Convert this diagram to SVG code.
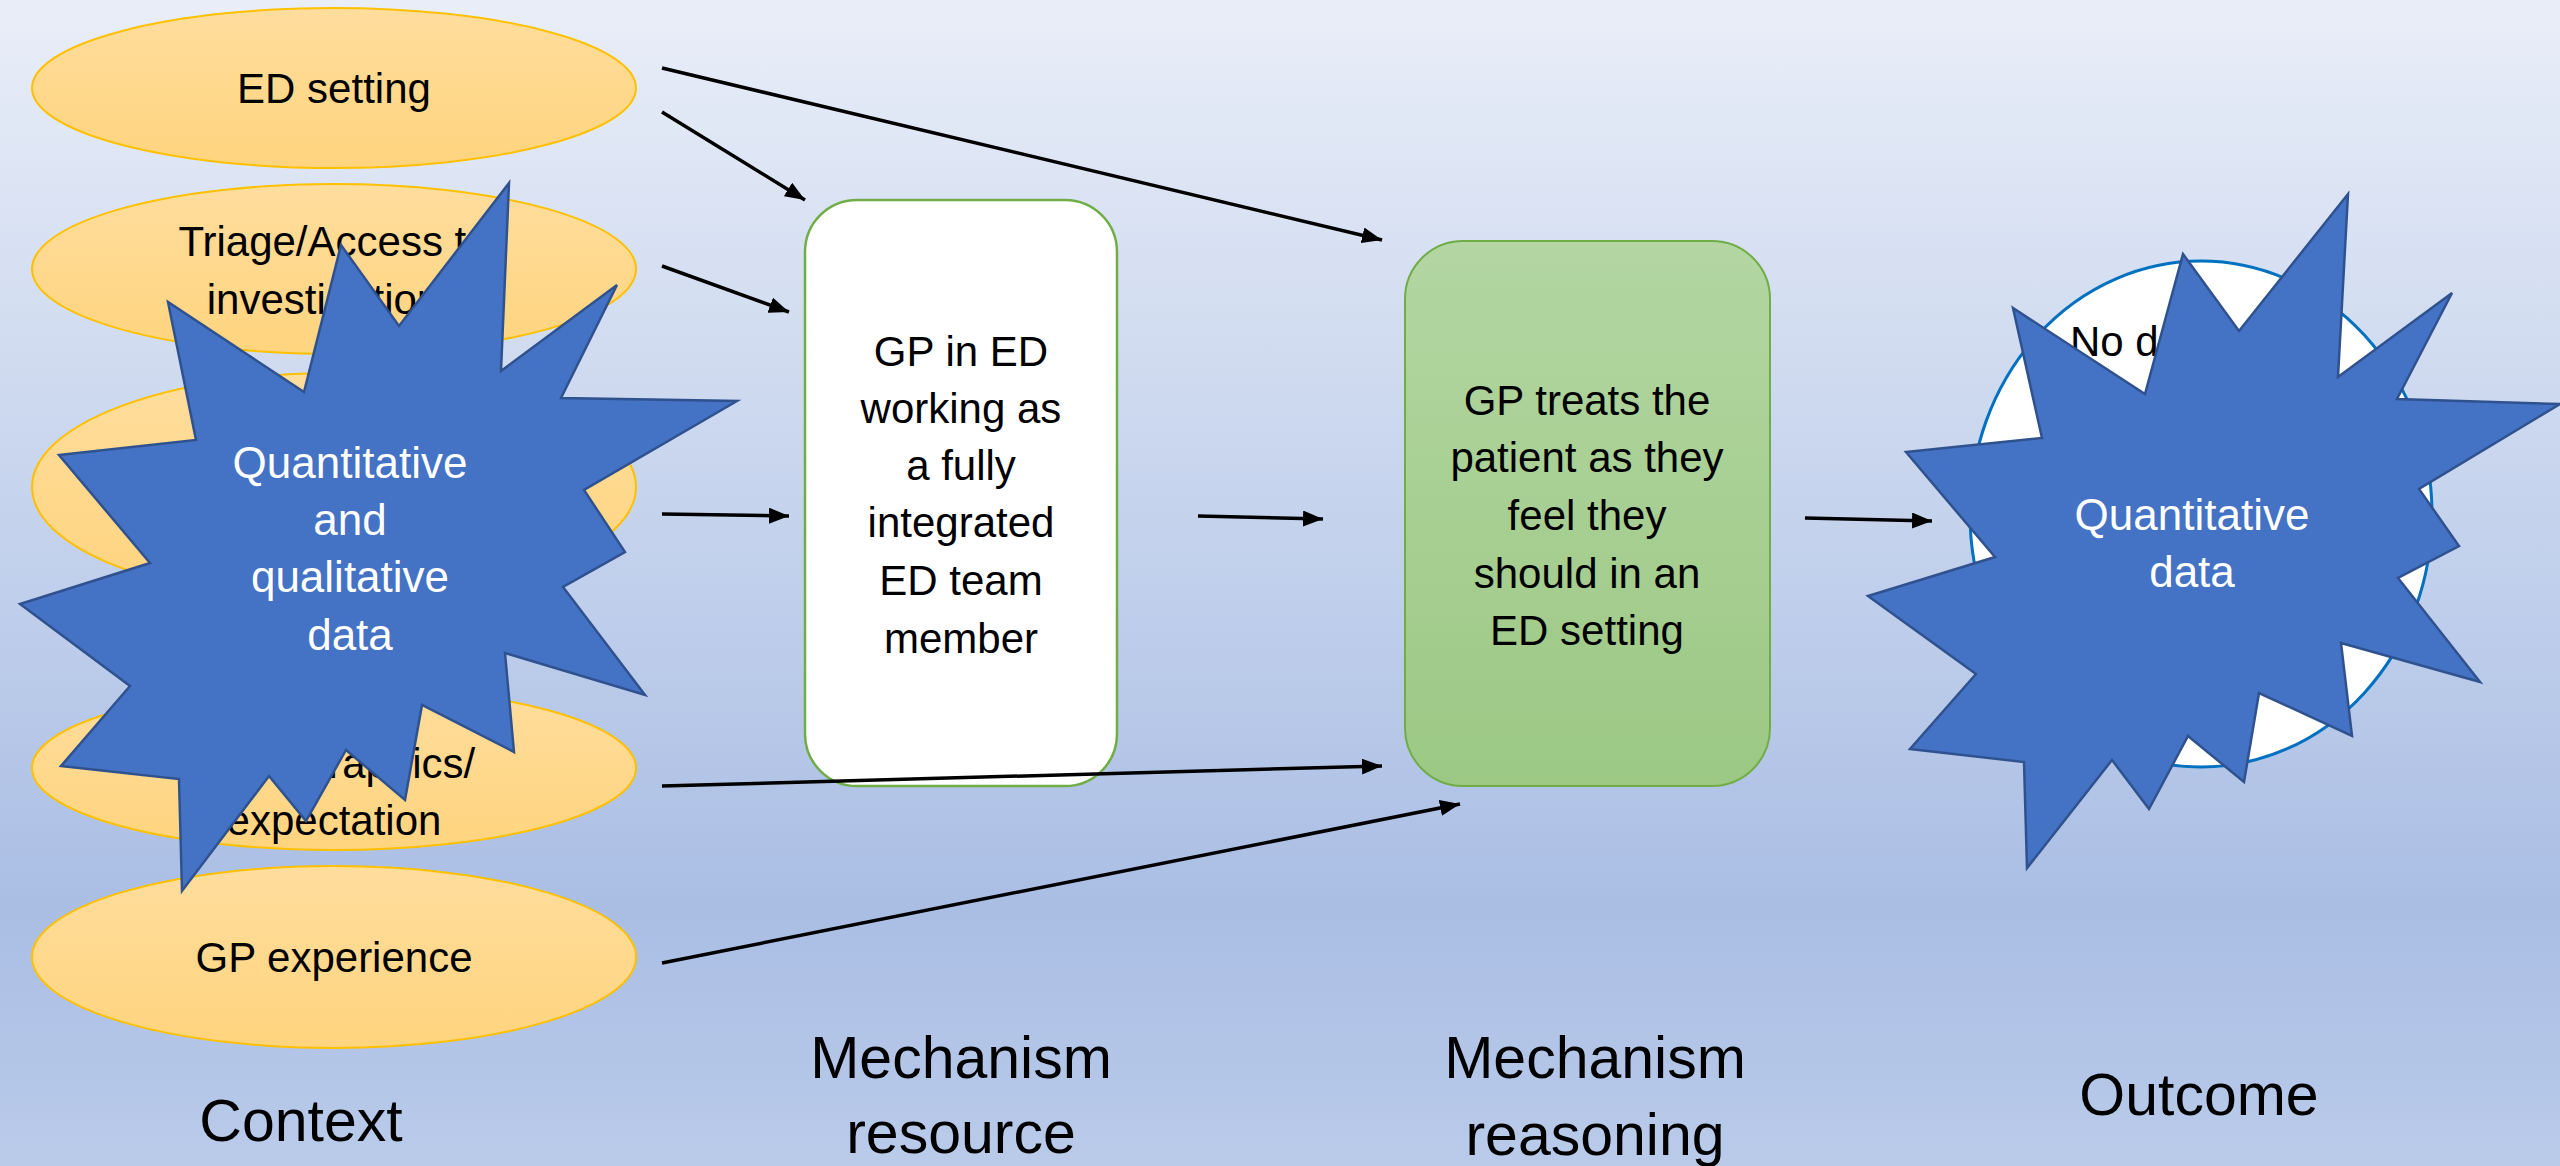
<svg xmlns="http://www.w3.org/2000/svg" width="2560" height="1166" viewBox="0 0 2560 1166">
<defs>
<linearGradient id="bg" x1="0" y1="0" x2="0" y2="1">
<stop offset="0" stop-color="#E9EEF8"/>
<stop offset="0.78" stop-color="#AABEE4"/>
<stop offset="1" stop-color="#BACBEA"/>
</linearGradient>
<linearGradient id="gold" x1="0" y1="0" x2="0" y2="1">
<stop offset="0" stop-color="#FFDD9D"/>
<stop offset="1" stop-color="#FFD47E"/>
</linearGradient>
<linearGradient id="green" x1="0" y1="0" x2="0" y2="1">
<stop offset="0" stop-color="#B3D6A2"/>
<stop offset="1" stop-color="#9CC884"/>
</linearGradient>
<marker id="arr" markerUnits="userSpaceOnUse" markerWidth="22" markerHeight="16" refX="20" refY="8" orient="auto">
<path d="M0,0 L20,8 L0,16 Z" fill="#000"/>
</marker>
</defs>
<style>
.ctx{fill:url(#gold);stroke:#FFC000;stroke-width:2}
.t{font-family:"Liberation Sans",Arial,sans-serif;font-size:42px;fill:#000;text-anchor:middle}
.w{fill:#fff;font-size:44px}
.h{font-family:"Liberation Sans",Arial,sans-serif;font-size:59px;fill:#000;text-anchor:middle}
.star{fill:#4472C4;stroke:#2F528F;stroke-width:2.5;stroke-linejoin:miter}
.c{stroke:#000;stroke-width:3.5;fill:none;marker-end:url(#arr)}
</style>
<rect width="2560" height="1166" fill="url(#bg)"/>

<g id="ctx-ed-setting">
<ellipse class="ctx" cx="334" cy="88" rx="302" ry="80"/>
<text class="t" x="334" y="103">ED setting</text>
</g>
<g id="ctx-triage">
<ellipse class="ctx" cx="334" cy="269" rx="302" ry="85"/>
<text class="t" x="334" y="256">Triage/Access to</text>
<text class="t" x="334" y="314">investigations</text>
</g>
<g id="ctx-third">
<ellipse class="ctx" cx="334" cy="487" rx="302" ry="114"/>
</g>
<g id="ctx-demographics">
<ellipse class="ctx" cx="334" cy="768" rx="302" ry="82"/>
<text class="t" x="334" y="778">Demographics/</text>
<text class="t" x="334" y="835">expectation</text>
</g>
<g id="ctx-gp-experience">
<ellipse class="ctx" cx="334" cy="957" rx="302" ry="91"/>
<text class="t" x="334" y="972">GP experience</text>
</g>

<g id="mech-resource">
<rect x="805" y="200" width="312" height="586" rx="52" ry="52" fill="#fff" stroke="#70AD47" stroke-width="2.5"/>
<text class="t" x="961" y="366">GP in ED</text>
<text class="t" x="961" y="423">working as</text>
<text class="t" x="961" y="480">a fully</text>
<text class="t" x="961" y="537">integrated</text>
<text class="t" x="961" y="595">ED team</text>
<text class="t" x="961" y="653">member</text>
</g>

<g id="mech-reasoning">
<rect x="1405" y="241" width="365" height="545" rx="58" ry="58" fill="url(#green)" stroke="#70AD47" stroke-width="2"/>
<text class="t" x="1587" y="415">GP treats the</text>
<text class="t" x="1587" y="472">patient as they</text>
<text class="t" x="1587" y="530">feel they</text>
<text class="t" x="1587" y="588">should in an</text>
<text class="t" x="1587" y="645">ED setting</text>
</g>

<g id="outcome">
<ellipse cx="2201" cy="514" rx="231" ry="253" fill="#fff" stroke="#0070C0" stroke-width="3"/>
<text class="t" x="2070" y="356" style="text-anchor:start">No data</text>
</g>

<g id="connectors">
<line class="c" x1="662" y1="68" x2="1382" y2="240"/>
<line class="c" x1="662" y1="112" x2="805" y2="200"/>
<line class="c" x1="662" y1="266" x2="789" y2="312"/>
<line class="c" x1="662" y1="514" x2="789" y2="516"/>
<line class="c" x1="662" y1="786" x2="1382" y2="766"/>
<line class="c" x1="662" y1="963" x2="1460" y2="804"/>
<line class="c" x1="1198" y1="516" x2="1323" y2="519"/>
<line class="c" x1="1805" y1="518" x2="1932" y2="521"/>
</g>

<g id="star-context">
<polygon class="star" points="509,183 399,326 341,245 304,392 168,302 196,440 59,455 150,563 20,604 130,686 61,766 179,779 182,891 269,776 306,821 346,750 405,800 422,705 514,752 505,653 645,695 563,587 625,552 584,490 737,401 561,398 617,285 501,371"/>
<text class="t w" x="350" y="478">Quantitative</text>
<text class="t w" x="350" y="535">and</text>
<text class="t w" x="350" y="592">qualitative</text>
<text class="t w" x="350" y="650">data</text>
</g>

<g id="star-outcome">
<polygon class="star" points="2348,194 2338,377 2452,293 2397,399 2560,404 2419,489 2459,546 2398,578 2480,682 2341,643 2352,736 2259,693 2244,782 2188,736 2149,809 2112,760 2027,868 2024,762 1910,749 1976,674 1868,596 1995,557 1906,452 2042,438 2013,308 2145,394 2183,254 2239,331"/>
<text class="t w" x="2192" y="530">Quantitative</text>
<text class="t w" x="2192" y="587">data</text>
</g>

<g id="labels">
<text class="h" x="301" y="1141">Context</text>
<text class="h" x="961" y="1078">Mechanism</text>
<text class="h" x="961" y="1153">resource</text>
<text class="h" x="1595" y="1078">Mechanism</text>
<text class="h" x="1595" y="1155">reasoning</text>
<text class="h" x="2199" y="1115">Outcome</text>
</g>
</svg>
